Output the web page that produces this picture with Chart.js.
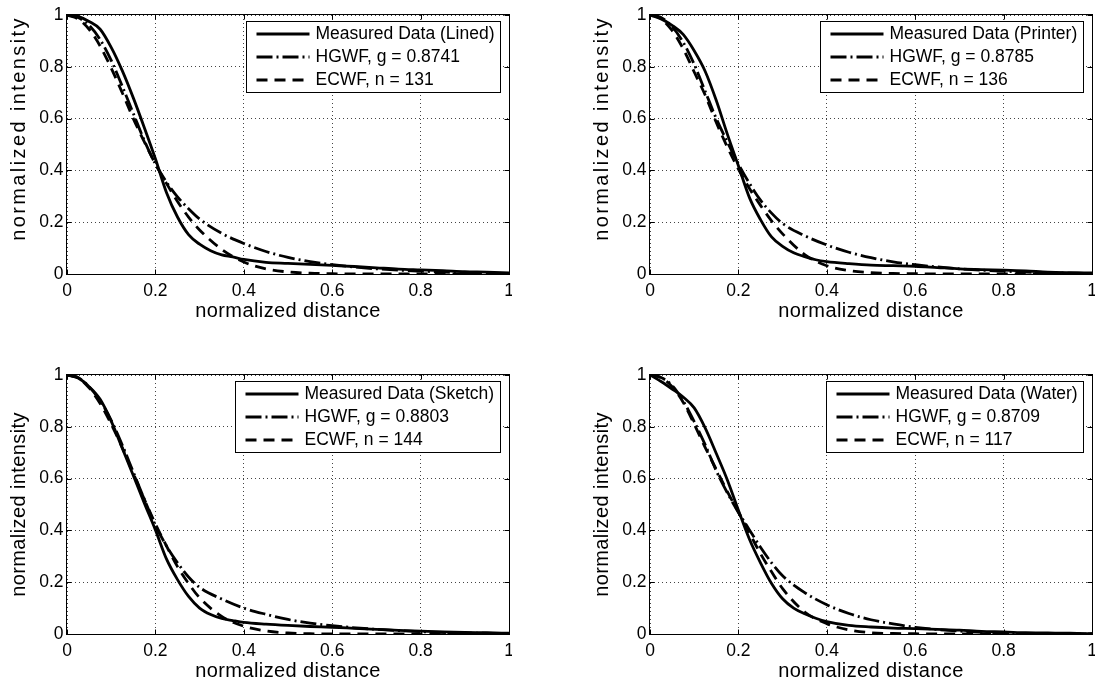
<!DOCTYPE html>
<html>
<head>
<meta charset="utf-8">
<script src="https://cdn.jsdelivr.net/npm/chart.js@4/dist/chart.umd.min.js"></script>
<style>
html,body{margin:0;padding:0;background:#fff;}
body{width:1095px;height:686px;position:relative;overflow:hidden;}
.cell{position:absolute;width:512px;height:326px;}
canvas{display:block;}
</style>
</head>
<body>
<div class="cell" style="left:0;top:0"><canvas id="c0" width="512" height="326"></canvas></div>
<div class="cell" style="left:583px;top:0"><canvas id="c1" width="512" height="326"></canvas></div>
<div class="cell" style="left:0;top:360px"><canvas id="c2" width="512" height="326"></canvas></div>
<div class="cell" style="left:583px;top:360px"><canvas id="c3" width="512" height="326"></canvas></div>
<script>
// ---------------- data ----------------
const xTicks = [0, 0.2, 0.4, 0.6, 0.8, 1];
const yTicks = [0, 0.2, 0.4, 0.6, 0.8, 1];

// distances at which the fitted models were read
const xModel = [0, 0.025, 0.05, 0.075, 0.1, 0.125, 0.15, 0.175, 0.2, 0.225, 0.25, 0.275, 0.3, 0.35, 0.4, 0.45, 0.5, 0.55, 0.6, 0.7, 0.8, 0.9, 1.0];
// distances at which the measured data were read
const xMeasured = [0, 0.025, 0.05, 0.075, 0.1, 0.125, 0.15, 0.175, 0.2, 0.225, 0.25, 0.275, 0.3, 0.325, 0.35, 0.375, 0.4, 0.45, 0.5, 0.55, 0.6, 0.65, 0.7, 0.75, 0.8, 0.85, 0.9, 0.95, 1.0];

const panelNames = ['Lined', 'Printer', 'Sketch', 'Water'];
const gValues = ['0.8741', '0.8785', '0.8803', '0.8709'];
const nValues = ['131', '136', '144', '117'];

const measuredLined   = [1, 0.995, 0.975, 0.945, 0.875, 0.785, 0.68, 0.565, 0.445, 0.315, 0.22, 0.152, 0.115, 0.09, 0.074, 0.066, 0.056, 0.045, 0.041, 0.037, 0.033, 0.029, 0.024, 0.019, 0.016, 0.013, 0.009, 0.007, 0.004];
const hgwfLined       = [1, 0.99, 0.96, 0.905, 0.825, 0.725, 0.62, 0.515, 0.425, 0.355, 0.298, 0.252, 0.212, 0.157, 0.118, 0.087, 0.064, 0.048, 0.036, 0.02, 0.011, 0.005, 0.002];
const ecwfLined       = [1, 0.985, 0.945, 0.88, 0.795, 0.7, 0.6, 0.51, 0.425, 0.35, 0.28, 0.22, 0.17, 0.095, 0.046, 0.02, 0.008, 0.003, 0.001, 0, 0, 0, 0];

const measuredPrinter = [1, 0.985, 0.96, 0.925, 0.862, 0.782, 0.67, 0.54, 0.418, 0.295, 0.21, 0.143, 0.107, 0.082, 0.067, 0.055, 0.048, 0.04, 0.034, 0.032, 0.03, 0.025, 0.02, 0.017, 0.015, 0.012, 0.007, 0.005, 0.004];
const hgwfPrinter     = [1, 0.99, 0.955, 0.895, 0.81, 0.705, 0.6, 0.51, 0.425, 0.35, 0.285, 0.235, 0.195, 0.148, 0.112, 0.084, 0.063, 0.047, 0.036, 0.02, 0.011, 0.005, 0.002];
const ecwfPrinter     = [1, 0.985, 0.94, 0.87, 0.78, 0.69, 0.585, 0.49, 0.405, 0.33, 0.265, 0.205, 0.155, 0.075, 0.032, 0.013, 0.005, 0.002, 0.001, 0, 0, 0, 0];

const measuredSketch  = [1, 0.988, 0.955, 0.906, 0.822, 0.717, 0.612, 0.505, 0.402, 0.29, 0.21, 0.145, 0.1, 0.075, 0.06, 0.052, 0.045, 0.038, 0.033, 0.029, 0.026, 0.022, 0.018, 0.014, 0.011, 0.008, 0.006, 0.005, 0.003];
const hgwfSketch      = [1, 0.99, 0.955, 0.9, 0.825, 0.73, 0.625, 0.52, 0.42, 0.34, 0.275, 0.22, 0.18, 0.135, 0.1, 0.076, 0.056, 0.042, 0.032, 0.018, 0.009, 0.004, 0.002];
const ecwfSketch      = [1, 0.99, 0.95, 0.89, 0.81, 0.72, 0.62, 0.52, 0.425, 0.34, 0.26, 0.195, 0.14, 0.068, 0.03, 0.012, 0.004, 0.001, 0, 0, 0, 0, 0];

const measuredWater   = [1, 0.975, 0.946, 0.915, 0.873, 0.795, 0.697, 0.595, 0.478, 0.366, 0.275, 0.195, 0.136, 0.1, 0.078, 0.061, 0.048, 0.033, 0.027, 0.023, 0.021, 0.018, 0.015, 0.01, 0.008, 0.005, 0.004, 0.003, 0.001];
const hgwfWater       = [1, 0.99, 0.96, 0.9, 0.82, 0.73, 0.63, 0.545, 0.47, 0.402, 0.335, 0.275, 0.225, 0.16, 0.113, 0.079, 0.055, 0.039, 0.026, 0.011, 0.004, 0.001, 0];
const ecwfWater       = [1, 0.99, 0.955, 0.895, 0.81, 0.72, 0.635, 0.55, 0.47, 0.39, 0.31, 0.24, 0.175, 0.085, 0.04, 0.016, 0.005, 0.002, 0.001, 0, 0, 0, 0];

const measuredSeries = [measuredLined, measuredPrinter, measuredSketch, measuredWater];
const hgwfSeries = [hgwfLined, hgwfPrinter, hgwfSketch, hgwfWater];
const ecwfSeries = [ecwfLined, ecwfPrinter, ecwfSketch, ecwfWater];

// ---------------- style ----------------
const FONT = '"Liberation Sans", Arial, Helvetica, sans-serif';
Chart.defaults.font.family = FONT;
Chart.defaults.color = '#000';

const yTitleStyle = [
  {spacing: 2.4, shift: -16},
  {spacing: 2.4, shift: -16},
  {spacing: 0.4, shift: 0},
  {spacing: 0.4, shift: 0}
];

function fmt(v) { return String(+Number(v).toFixed(1)); }

function wrapTitle(scale, spacing, shiftY) {
  if (scale._wrappedTitle) return;
  const orig = scale.drawTitle;
  scale.drawTitle = function () {
    const ctx = this.ctx;
    ctx.save();
    try { ctx.letterSpacing = spacing + 'px'; } catch (e) {}
    ctx.translate(0, shiftY);
    orig.call(this);
    ctx.restore();
  };
  scale._wrappedTitle = true;
}

const framePlugin = {
  id: 'frame',
  afterDatasetsDraw(chart) {
    const {ctx, chartArea: a, scales} = chart;
    const L = Math.round(a.left) - 0.5, R = Math.round(a.right) + 0.5;
    const T = Math.round(a.top) - 0.5, B = Math.round(a.bottom) + 0.5;
    ctx.save();
    ctx.strokeStyle = '#000';
    ctx.lineWidth = 1;
    ctx.setLineDash([]);
    ctx.strokeRect(L, T, R - L, B - T);
    const tl = 5;
    ctx.beginPath();
    xTicks.forEach(v => {
      const px = Math.round(scales.x.getPixelForValue(v)) + 0.5;
      ctx.moveTo(px, B); ctx.lineTo(px, B - tl);
      ctx.moveTo(px, T); ctx.lineTo(px, T + tl);
    });
    yTicks.forEach(v => {
      const py = Math.round(scales.y.getPixelForValue(v)) + 0.5;
      ctx.moveTo(L, py); ctx.lineTo(L + tl, py);
      ctx.moveTo(R, py); ctx.lineTo(R - tl, py);
    });
    ctx.stroke();
    ctx.restore();
  }
};

const boxLegendPlugin = {
  id: 'boxLegend',
  afterDraw(chart, args, o) {
    const {ctx, chartArea: a} = chart;
    const ds = chart.data.datasets;
    ctx.save();
    ctx.font = o.fontSize + 'px ' + FONT;
    const tw = Math.max(...ds.map(d => ctx.measureText(d.label).width));
    const w = Math.round(o.padL + o.sample + o.gap + tw + o.padR);
    const x0 = Math.round(a.right - o.right - w) + 0.5;
    const y0 = Math.round(a.top + o.top) + 0.5;
    ctx.fillStyle = '#fff';
    ctx.fillRect(x0, y0, w, o.height);
    ctx.strokeStyle = '#000';
    ctx.lineWidth = 1;
    ctx.setLineDash([]);
    ctx.strokeRect(x0, y0, w, o.height);
    ds.forEach((d, i) => {
      const yc = Math.round(y0 + o.first + i * o.step);
      ctx.beginPath();
      ctx.lineWidth = d.borderWidth;
      ctx.lineCap = 'butt';
      ctx.setLineDash(d.borderDash || []);
      ctx.moveTo(x0 + o.padL, yc);
      ctx.lineTo(x0 + o.padL + o.sample, yc);
      ctx.stroke();
      ctx.setLineDash([]);
      ctx.fillStyle = '#000';
      ctx.textAlign = 'left';
      ctx.textBaseline = 'middle';
      ctx.fillText(d.label, x0 + o.padL + o.sample + o.gap, yc + 0.5);
    });
    ctx.restore();
  }
};

function makeChart(i) {
  const toPts = (xs, ys) => xs.map((x, k) => ({x: x, y: ys[k]}));
  const common = {borderColor: '#000', borderWidth: 2.8, pointRadius: 0, fill: false,
                  cubicInterpolationMode: 'monotone', borderCapStyle: 'butt', borderJoinStyle: 'round'};
  const datasets = [
    Object.assign({label: 'Measured Data (' + panelNames[i] + ')', data: toPts(xMeasured, measuredSeries[i]), borderDash: []}, common),
    Object.assign({label: 'HGWF, g = ' + gValues[i], data: toPts(xModel, hgwfSeries[i]), borderDash: [16, 4, 2, 4]}, common),
    Object.assign({label: 'ECWF, n = ' + nValues[i], data: toPts(xModel, ecwfSeries[i]), borderDash: [11, 7]}, common)
  ];
  const ts = yTitleStyle[i];
  return new Chart(document.getElementById('c' + i), {
    type: 'line',
    data: {datasets: datasets},
    options: {
      responsive: false,
      animation: false,
      events: [],
      layout: {padding: {left: 0, top: 15, right: 3, bottom: 0}},
      plugins: {
        legend: {display: false},
        tooltip: {enabled: false},
        boxLegend: {fontSize: 17.5, padL: 10, sample: 53, gap: 6, padR: 6, right: 9, top: 6, height: 71, first: 12, step: 23}
      },
      scales: {
        x: {
          type: 'linear', min: 0, max: 1,
          afterBuildTicks: s => { s.ticks = xTicks.map(v => ({value: v})); },
          afterFit: s => { s.height = 52; s.paddingLeft = 0; s.paddingRight = 0; wrapTitle(s, 0.4, 0); },
          grid: {color: '#444', lineWidth: 1, drawTicks: false},
          border: {display: false, dash: [1, 3]},
          ticks: {padding: 6.4, font: {size: 17.5}, maxRotation: 0, autoSkip: false, callback: v => fmt(v)},
          title: {display: true, text: 'normalized distance', font: {size: 20}, padding: {top: 0, bottom: 2.8}}
        },
        y: {
          type: 'linear', min: 0, max: 1,
          afterBuildTicks: s => { s.ticks = yTicks.map(v => ({value: v})); },
          afterFit: s => { s.width = 67; s.paddingTop = 0; s.paddingBottom = 0; wrapTitle(s, ts.spacing, ts.shift); },
          grid: {color: '#444', lineWidth: 1, drawTicks: false},
          border: {display: false, dash: [1, 3]},
          ticks: {padding: 3.5, font: {size: 17.5}, autoSkip: false, callback: v => fmt(v)},
          title: {display: true, text: 'normalized intensity', font: {size: 20}, padding: {top: 7.2, bottom: 0}}
        }
      }
    },
    plugins: [framePlugin, boxLegendPlugin]
  });
}

for (let i = 0; i < 4; i++) makeChart(i);
</script>
</body>
</html>
